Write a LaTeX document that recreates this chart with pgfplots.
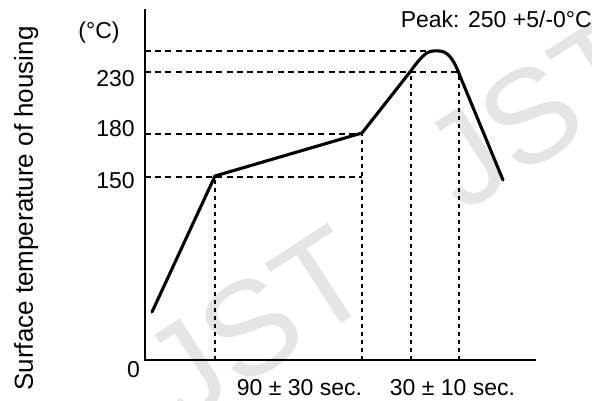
\documentclass[border=0pt]{standalone}
\usepackage{fontspec}
\setmainfont{Liberation Sans}
\usepackage{pgfplots}
\pgfplotsset{compat=1.18}
\newcommand{\lbl}{\fontsize{23}{27}\selectfont}

\begin{document}
\begin{tikzpicture}
% watermark
\begin{scope}[every node/.style={text=black!10, inner sep=0pt, rotate=33,
    anchor=base east, font=\fontsize{133}{133}\selectfont}]
  \node at (236pt,62pt) {JST};
  \node at (516pt,274pt) {JST};
\end{scope}
\begin{axis}[
  x=1pt, y=1pt,
  xmin=0, xmax=390, ymin=0, ymax=350,
  axis x line=bottom, axis y line=left,
  axis line style={-, line width=2.8pt, line cap=rect},
  xtick=\empty,
  ytick={172,224,273},
  yticklabels={150,180,230},
  major tick length=0pt,
  yticklabel style={anchor=base east, inner sep=0pt, xshift=-10pt, font=\lbl},
  ylabel={Surface temperature of housing},
  ylabel style={at={(axis description cs:-0.28718,0.43286)}, anchor=base,
    font=\fontsize{26}{26}\selectfont},
  clip=false,
]
% guide lines
\addplot[black, line width=1.8pt, dash pattern=on 6pt off 4.2pt] coordinates {(0,309) (282,309)};
\addplot[black, line width=1.8pt, dash pattern=on 6pt off 4.2pt] coordinates {(0,288) (314,288)};
\addplot[black, line width=1.8pt, dash pattern=on 6pt off 4.2pt] coordinates {(0,226) (217,226)};
\addplot[black, line width=1.8pt, dash pattern=on 6pt off 4.2pt] coordinates {(0,183) (217,183)};
\addplot[black, line width=1.8pt, dash pattern=on 4pt off 4pt] coordinates {(70,0) (70,183)};
\addplot[black, line width=1.8pt, dash pattern=on 4pt off 4pt] coordinates {(217,0) (217,226)};
\addplot[black, line width=1.8pt, dash pattern=on 4pt off 4pt] coordinates {(266,0) (266,288)};
\addplot[black, line width=1.8pt, dash pattern=on 4pt off 4pt] coordinates {(314,0) (314,288)};
% profile
\addplot[black, line width=3.1pt, line join=round, line cap=round] coordinates {
  (7,48) (70,184) (217,227) (265,288) (269,293.5) (273,298.5) (277,303)
  (281,306.5) (285,308.5) (290,309.2) (295,309) (299,308) (303,305.5)
  (306,302) (309,297.5) (312,291.5) (315,284) (358,180)
};
\node[font=\lbl, inner sep=0pt, anchor=base east] at (axis cs:-5,-17) {0};
\node[font=\lbl, inner sep=0pt, anchor=base] at (axis cs:-46,321) {(°C)};
\node[font=\lbl, inner sep=0pt, anchor=base east] at (axis cs:447,332) {Peak: 250 +5/-0°C};
\node[font=\lbl, inner sep=0pt, anchor=base] at (axis cs:154.5,-35) {90 ± 30 sec.};
\node[font=\lbl, inner sep=0pt, anchor=base] at (axis cs:307.5,-35) {30 ± 10 sec.};
\end{axis}
\pgfresetboundingbox
\path (-145pt,-40pt) rectangle (447pt,360pt);
\end{tikzpicture}
\end{document}
